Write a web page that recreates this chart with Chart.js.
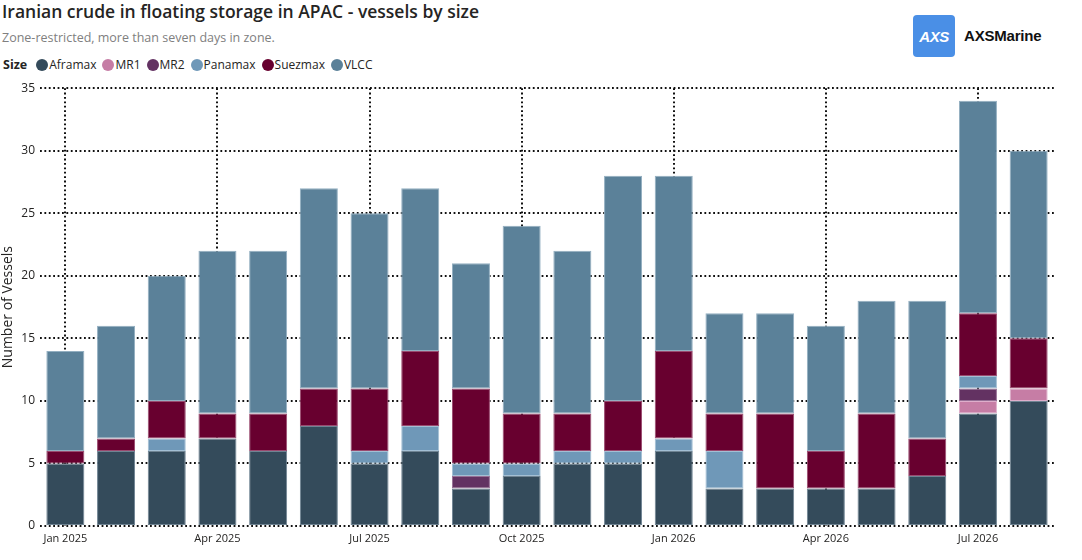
<!DOCTYPE html>
<html>
<head>
<meta charset="utf-8">
<script src="https://cdn.jsdelivr.net/npm/chart.js@4.4.1/dist/chart.umd.min.js"></script>
<style>
  body { margin: 0; background: #fff; font-family: "Open Sans", "Noto Sans", sans-serif; color: #252423; }
  #wrap { position: relative; width: 1082px; height: 560px; overflow: hidden; }
  #title { position: absolute; left: 2px; top: -1px; font-size: 17.5px; font-weight: 600; color: #252423; white-space: nowrap; }
  #subtitle { position: absolute; left: 2px; top: 29px; font-size: 12.5px; color: #808080; white-space: nowrap; }
  #legend { position: absolute; left: 3px; top: 56px; font-size: 12px; display: flex; align-items: center; white-space: nowrap; }
  #legend b { margin-right: 9px; font-weight: 700; font-size: 12.5px; }
  #legend .item { display: flex; align-items: center; margin-right: 6px; }
  #legend .dot { width: 12px; height: 12px; border-radius: 50%; margin-right: 1px; }
  #logo { position: absolute; left: 913px; top: 15px; width: 42px; height: 42px; border-radius: 4px; background: #4a8fe6;
          color: #fff; font: italic 700 15px "Liberation Sans", Arial, sans-serif; display: flex; align-items: center; justify-content: center; letter-spacing: -0.5px; }
  #brand { position: absolute; left: 964px; top: 27px; font: 600 15px "Liberation Sans", Arial, sans-serif; color: #111; letter-spacing: -0.2px; }
  #box { position: absolute; left: 0; top: 76px; width: 1082px; height: 472px; }
</style>
</head>
<body>
<div id="wrap">
  <div id="title">Iranian crude in floating storage in APAC - vessels by size</div>
  <div id="subtitle">Zone-restricted, more than seven days in zone.</div>
  <div id="legend"><b>Size</b></div>
  <div id="logo">AXS</div>
  <div id="brand">AXSMarine</div>
  <div id="box"><canvas id="myChart"></canvas></div>
</div>
<script>
const months = [
  "Jan 2025", "Feb 2025", "Mar 2025", "Apr 2025", "May 2025", "Jun 2025",
  "Jul 2025", "Aug 2025", "Sep 2025", "Oct 2025", "Nov 2025", "Dec 2025",
  "Jan 2026", "Feb 2026", "Mar 2026", "Apr 2026", "May 2026", "Jun 2026",
  "Jul 2026", "Aug 2026"
];

const aframax  = [5, 6, 6, 7, 6, 8, 5, 6, 3, 4, 5, 5, 6, 3, 3, 3, 3, 4, 9, 10];
const mr1      = [0, 0, 0, 0, 0, 0, 0, 0, 0, 0, 0, 0, 0, 0, 0, 0, 0, 0, 1, 1];
const mr2      = [0, 0, 0, 0, 0, 0, 0, 0, 1, 0, 0, 0, 0, 0, 0, 0, 0, 0, 1, 0];
const panamax  = [0, 0, 1, 0, 0, 0, 1, 2, 1, 1, 1, 1, 1, 3, 0, 0, 0, 0, 1, 0];
const suezmax  = [1, 1, 3, 2, 3, 3, 5, 6, 6, 4, 3, 4, 7, 3, 6, 3, 6, 3, 5, 4];
const vlcc     = [8, 9, 10, 13, 13, 16, 14, 13, 10, 15, 13, 18, 14, 8, 8, 10, 9, 11, 17, 15];

const yTicks = [0, 5, 10, 15, 20, 25, 30, 35];

const series = [
  { name: "Aframax", values: aframax, color: "#344b5b", edge: "#6f8493" },
  { name: "MR1", values: mr1, color: "#c67da5", edge: "#deaecb" },
  { name: "MR2", values: mr2, color: "#633262", edge: "#977096" },
  { name: "Panamax", values: panamax, color: "#6f98b8", edge: "#a3bfd4" },
  { name: "Suezmax", values: suezmax, color: "#68002f", edge: "#9a4a6f" },
  { name: "VLCC", values: vlcc, color: "#5b8199", edge: "#93afc1" }
];

const legend = document.getElementById("legend");
series.forEach(s => {
  const item = document.createElement("span");
  item.className = "item";
  item.innerHTML = '<span class="dot" style="background:' + s.color + '"></span>' + s.name;
  legend.appendChild(item);
});

const dotted = "#111111";

new Chart("myChart", {
  type: "bar",
  data: {
    labels: months,
    datasets: series.map(s => ({
      label: s.name,
      data: s.values,
      backgroundColor: s.color,
      borderColor: s.edge,
      borderWidth: 1,
      borderSkipped: false,
      barPercentage: 0.75,
      categoryPercentage: 1.0,
    })),
  },
  options: {
    responsive: true,
    maintainAspectRatio: false,
    animation: false,
    layout: { padding: { top: 2, right: 28, left: 0, bottom: 0 } },
    plugins: {
      legend: { display: false },
      tooltip: { enabled: false },
    },
    scales: {
      x: {
        stacked: true,
        border: { display: false, dash: [1.8, 2.6] },
        grid: {
          offset: false,
          drawTicks: false,
          lineWidth: 2,
          color: ctx => (ctx.index % 3 === 0 ? dotted : "rgba(0,0,0,0)"),
        },
        ticks: {
          autoSkip: false,
          maxRotation: 0,
          padding: 6,
          color: "#252423",
          font: { family: "Open Sans", size: 11 },
          callback: function (value, index) {
            return index % 3 === 0 ? months[index] : "";
          },
        },
        afterFit: scale => { scale.height = 22; },
      },
      y: {
        stacked: true,
        min: 0,
        max: 35,
        border: { display: false, dash: [1.8, 2.6] },
        afterBuildTicks: scale => { scale.ticks = yTicks.map(v => ({ value: v })); },
        grid: {
          drawTicks: false,
          lineWidth: 2,
          color: dotted,
        },
        ticks: {
          padding: 5,
          color: "#252423",
          font: { family: "Open Sans", size: 12 },
        },
        title: {
          display: true,
          text: "Number of Vessels",
          color: "#252423",
          font: { family: "Open Sans", size: 14 },
          padding: 0,
        },
        afterFit: scale => { scale.width = 40; },
      },
    },
  },
});
</script>
</body>
</html>
